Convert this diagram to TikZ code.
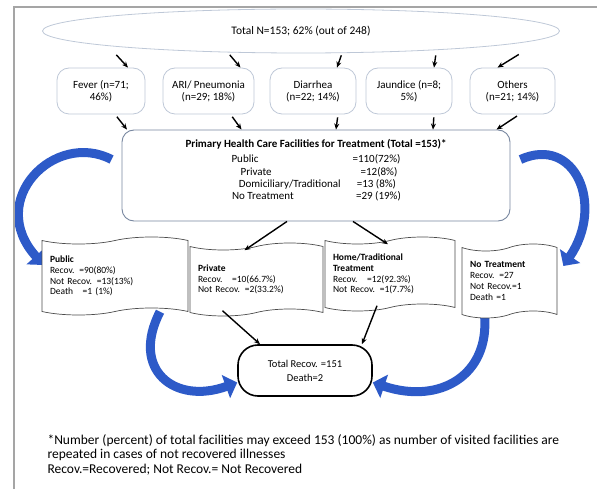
\documentclass[tikz,border=0pt]{standalone}
\usepackage{fontspec}
\setmainfont{Carlito}
\usetikzlibrary{shapes.geometric,shapes.symbols,arrows.meta,backgrounds}

\definecolor{boxline}{RGB}{190,200,215}
\definecolor{mainline}{RGB}{120,135,160}
\definecolor{curvblue}{RGB}{45,90,200}
\definecolor{frameline}{RGB}{165,165,165}

\tikzset{
  sickbox/.style={draw=boxline, fill=white, line width=0.8pt, rounded corners=12pt,
    minimum width=88pt, minimum height=46pt, align=center, font=\fontsize{11}{12}\selectfont},
  wavebox/.style={tape, draw=black!70, fill=white, line width=0.7pt,
    tape bend top=in and out, tape bend bottom=in and out, tape bend height=7pt,
    align=left, inner xsep=8pt, font=\fontsize{9.5}{10.8}\selectfont},
  arr/.style={-{Stealth[length=6pt,width=5pt]}, line width=1.4pt},
  bigarr/.style={curvblue, line width=9pt, -{Triangle[length=12pt,width=24pt]}},
}

\begin{document}
\begin{tikzpicture}[x=1pt,y=-1pt]
  \useasboundingbox (0,0) rectangle (597,494);
  \draw[frameline, line width=1.2pt] (14,489) -- (14,7) -- (597,7);

  \node[ellipse, draw=boxline, line width=0.8pt, minimum width=517pt, minimum height=44pt,
    font=\fontsize{11.5}{13}\selectfont] (top) at (301,31) {Total N=153; 62\% (out of 248)};

  \node[sickbox] (fever) at (101,91) {Fever (n=71;\\46\%)};
  \node[sickbox, minimum width=91pt] (ari) at (208.5,91) {ARI/ Pneumonia\\(n=29; 18\%)};
  \node[sickbox, minimum width=86pt] (diar) at (313,91) {Diarrhea\\(n=22; 14\%)};
  \node[sickbox, minimum width=86pt] (jaun) at (409,91) {Jaundice (n=8;\\5\%)};
  \node[sickbox, minimum width=85pt] (oth) at (512.5,91) {Others\\(n=21; 14\%)};

  \node[draw=mainline, fill=white, line width=0.9pt, rounded corners=12pt,
    minimum width=388pt, minimum height=91pt, align=center,
    font=\fontsize{11}{12.3}\selectfont] (main) at (316,175.5)
    {\textbf{Primary Health Care Facilities for Treatment (Total =153)*}\\[2.7pt]
     \makebox[121pt][l]{Public}=110(72\%)\\
     \makebox[121pt][l]{\hspace{6pt}Private}\hspace{5pt}=12(8\%)\\
     \makebox[121pt][l]{\hspace{3pt}Domiciliary/Traditional}=13 (8\%)\\
     \makebox[121pt][l]{\hspace{1pt}No Treatment}\hspace{4pt}=29 (19\%)\\[-1pt]\mbox{}};

  \node[wavebox, text width=130pt, minimum height=78pt] (pub) at (115,276)
    {\textbf{Public}\\Recov. =90(80\%)\\Not Recov. =13(13\%)\\Death\quad =1 (1\%)};
  \node[wavebox, text width=117pt, minimum height=73pt] (pvt) at (256.5,279.5)
    {\textbf{Private}\\Recov.\quad =10(66.7\%)\\Not Recov. =2(33.2\%)};
  \node[wavebox, text width=114pt, minimum height=74pt] (home) at (390,274)
    {\textbf{Home/Traditional}\\\textbf{Treatment}\\Recov.\quad =12(92.3\%)\\Not Recov. =1(7.7\%)};
  \node[wavebox, text width=79pt, minimum height=74pt] (notr) at (509.5,281)
    {\textbf{No Treatment}\\Recov. =27\\Not Recov.=1\\Death =1};

  \node[draw, fill=white, line width=1.6pt, rounded corners=20pt, minimum width=134pt,
    minimum height=51pt, align=center, font=\fontsize{10.5}{14}\selectfont] (total) at (305,370.5)
    {Total Recov. =151\\Death=2};

  \node[anchor=north west, align=left, font=\fontsize{13.5}{14.5}\selectfont] (note) at (44,431)
    {*Number (percent) of total facilities may exceed 153 (100\%) as number of visited facilities are\\
     repeated in cases of not recovered illnesses\\
     Recov.=Recovered; Not Recov.= Not Recovered};

  % ellipse to illnesses, illnesses to facilities
  \foreach \b/\s/\e in {fever/14/27, ari/20/32, diar/29/24, jaun/27/25, oth/8/-15}
    \draw[arr, shorten <=2pt] ([xshift=\s pt]\b.north |- top.south) -- ([xshift=\e pt]\b.north);
  \foreach \b/\s/\e in {fever/14/26, ari/22/33, diar/25/23, jaun/25/24, oth/7/-16}
    \draw[arr, shorten <=3pt] ([xshift=\s pt]\b.south) -- ([xshift=\e pt]\b.south |- main.north);

  \draw[arr] ([xshift=-29pt]main.south) -- ([xshift=-12pt,yshift=-4pt]pvt.north);
  \draw[arr] ([xshift=37pt]main.south) -- ([xshift=-2pt,yshift=-4pt]home.north);
  \draw[arr] ([xshift=-34pt,yshift=2pt]pvt.south) -- ([xshift=-45pt]total.north);
  \draw[arr] ([xshift=-13pt,yshift=2pt]home.south) -- ([xshift=57pt]total.north);

  \begin{scope}[on background layer]
    \draw[bigarr] ([xshift=-10pt,yshift=16pt]main.west) .. controls (55,130) and (-15,200) .. ([xshift=2pt,yshift=11pt]pub.west);
    \draw[bigarr] ([xshift=10pt,yshift=16pt]main.east) .. controls (575,135) and (605,205) .. ([xshift=6pt,yshift=15pt]notr.east);
    \draw[bigarr] ([xshift=45pt]pub.south) .. controls (130,370) and (175,405) .. ([yshift=-12pt]total.west);
    \draw[bigarr] ([xshift=-25pt]notr.south) .. controls (490,375) and (440,405) .. ([yshift=-12pt]total.east);
  \end{scope}
\end{tikzpicture}
\end{document}
